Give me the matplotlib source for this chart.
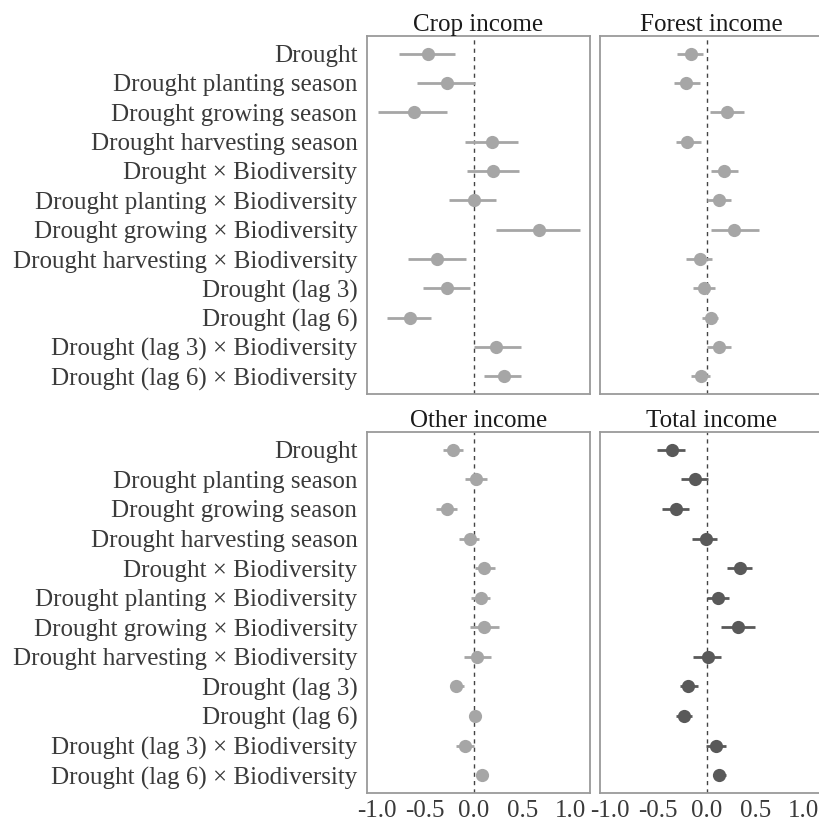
import matplotlib
matplotlib.use("Agg")
import matplotlib.pyplot as plt

plt.rcParams["font.family"] = ["Liberation Serif", "DejaVu Serif"]

terms = [
    "Drought",
    "Drought planting season",
    "Drought growing season",
    "Drought harvesting season",
    "Drought × Biodiversity",
    "Drought planting × Biodiversity",
    "Drought growing × Biodiversity",
    "Drought harvesting × Biodiversity",
    "Drought (lag 3)",
    "Drought (lag 6)",
    "Drought (lag 3) × Biodiversity",
    "Drought (lag 6) × Biodiversity",
]

crop_est = [-0.47, -0.28, -0.62, 0.19, 0.20, 0.00, 0.67, -0.38, -0.28, -0.66, 0.23, 0.31]
crop_lo = [-0.77, -0.58, -0.99, -0.09, -0.07, -0.25, 0.23, -0.68, -0.52, -0.89, 0.00, 0.11]
crop_hi = [-0.19, 0.01, -0.27, 0.46, 0.47, 0.23, 1.10, -0.08, -0.04, -0.44, 0.49, 0.49]

forest_est = [-0.16, -0.21, 0.21, -0.20, 0.18, 0.13, 0.28, -0.07, -0.03, 0.04, 0.13, -0.06]
forest_lo = [-0.31, -0.34, 0.03, -0.32, 0.04, 0.00, 0.04, -0.21, -0.14, -0.05, 0.00, -0.16]
forest_hi = [-0.04, -0.07, 0.39, -0.06, 0.32, 0.25, 0.54, 0.06, 0.09, 0.12, 0.25, 0.03]

other_est = [-0.21, 0.02, -0.28, -0.04, 0.11, 0.08, 0.11, 0.03, -0.18, 0.01, -0.09, 0.09]
other_lo = [-0.32, -0.09, -0.39, -0.15, 0.01, -0.03, -0.04, -0.10, -0.24, -0.04, -0.18, 0.04]
other_hi = [-0.11, 0.14, -0.17, 0.05, 0.22, 0.17, 0.26, 0.18, -0.10, 0.06, 0.00, 0.14]

total_est = [-0.36, -0.12, -0.32, -0.01, 0.34, 0.12, 0.32, 0.01, -0.19, -0.23, 0.10, 0.13]
total_lo = [-0.51, -0.26, -0.46, -0.15, 0.21, 0.00, 0.15, -0.14, -0.28, -0.32, -0.01, 0.07]
total_hi = [-0.22, 0.01, -0.18, 0.11, 0.47, 0.23, 0.50, 0.15, -0.09, -0.15, 0.20, 0.20]

panel_titles = ["Crop income", "Forest income", "Other income", "Total income"]
x_ticks = [-1.0, -0.5, 0.0, 0.5, 1.0]
x_tick_labels = ["-1.0", "-0.5", "0.0", "0.5", "1.0"]

light = "#a6a6a6"
dark = "#595959"
border = "#9a9a9a"
text_col = "#3a3a3a"

W, H = 819, 827
fig = plt.figure(figsize=(W / 100, H / 100), dpi=100)


def px_rect(x0, y0, x1, y1):
    return [x0 / W, 1 - y1 / H, (x1 - x0) / W, (y1 - y0) / H]


rects = [
    px_rect(367, 36, 590, 394),
    px_rect(600, 36, 823, 394),
    px_rect(367, 432, 590, 793),
    px_rect(600, 432, 823, 793),
]
series = [
    (crop_est, crop_lo, crop_hi, light),
    (forest_est, forest_lo, forest_hi, light),
    (other_est, other_lo, other_hi, light),
    (total_est, total_lo, total_hi, dark),
]

FS = 18
ypos = list(range(1, len(terms) + 1))

for i, (rect, (est, lo, hi, col), title) in enumerate(zip(rects, series, panel_titles)):
    ax = fig.add_axes(rect)
    ax.axvline(0, color="#444444", lw=1.0, ls=(0, (3, 3)), zorder=1)
    ax.hlines(ypos, lo, hi, color=col, lw=2.0, zorder=2)
    ax.plot(est, ypos, "o", color=col, ms=9.5, mec="none", zorder=3)
    ax.set_xlim(-1.1, 1.2)
    ax.set_ylim(len(terms) + 0.6, 0.4)
    ax.set_yticks(ypos)
    ax.set_xticks(x_ticks)
    ax.tick_params(length=0, labelsize=FS, colors=text_col, pad=5)
    if i % 2 == 0:
        ax.set_yticklabels(terms)
        ax.tick_params(axis="y", pad=7)
    else:
        ax.set_yticklabels([])
    if i >= 2:
        ax.set_xticklabels(x_tick_labels)
    else:
        ax.set_xticklabels([])
    for s in ax.spines.values():
        s.set_color(border)
        s.set_linewidth(1.3)
    ax.set_title(title, fontsize=FS, color="#1a1a1a", pad=3)

fig.savefig("out.png", dpi=100)
